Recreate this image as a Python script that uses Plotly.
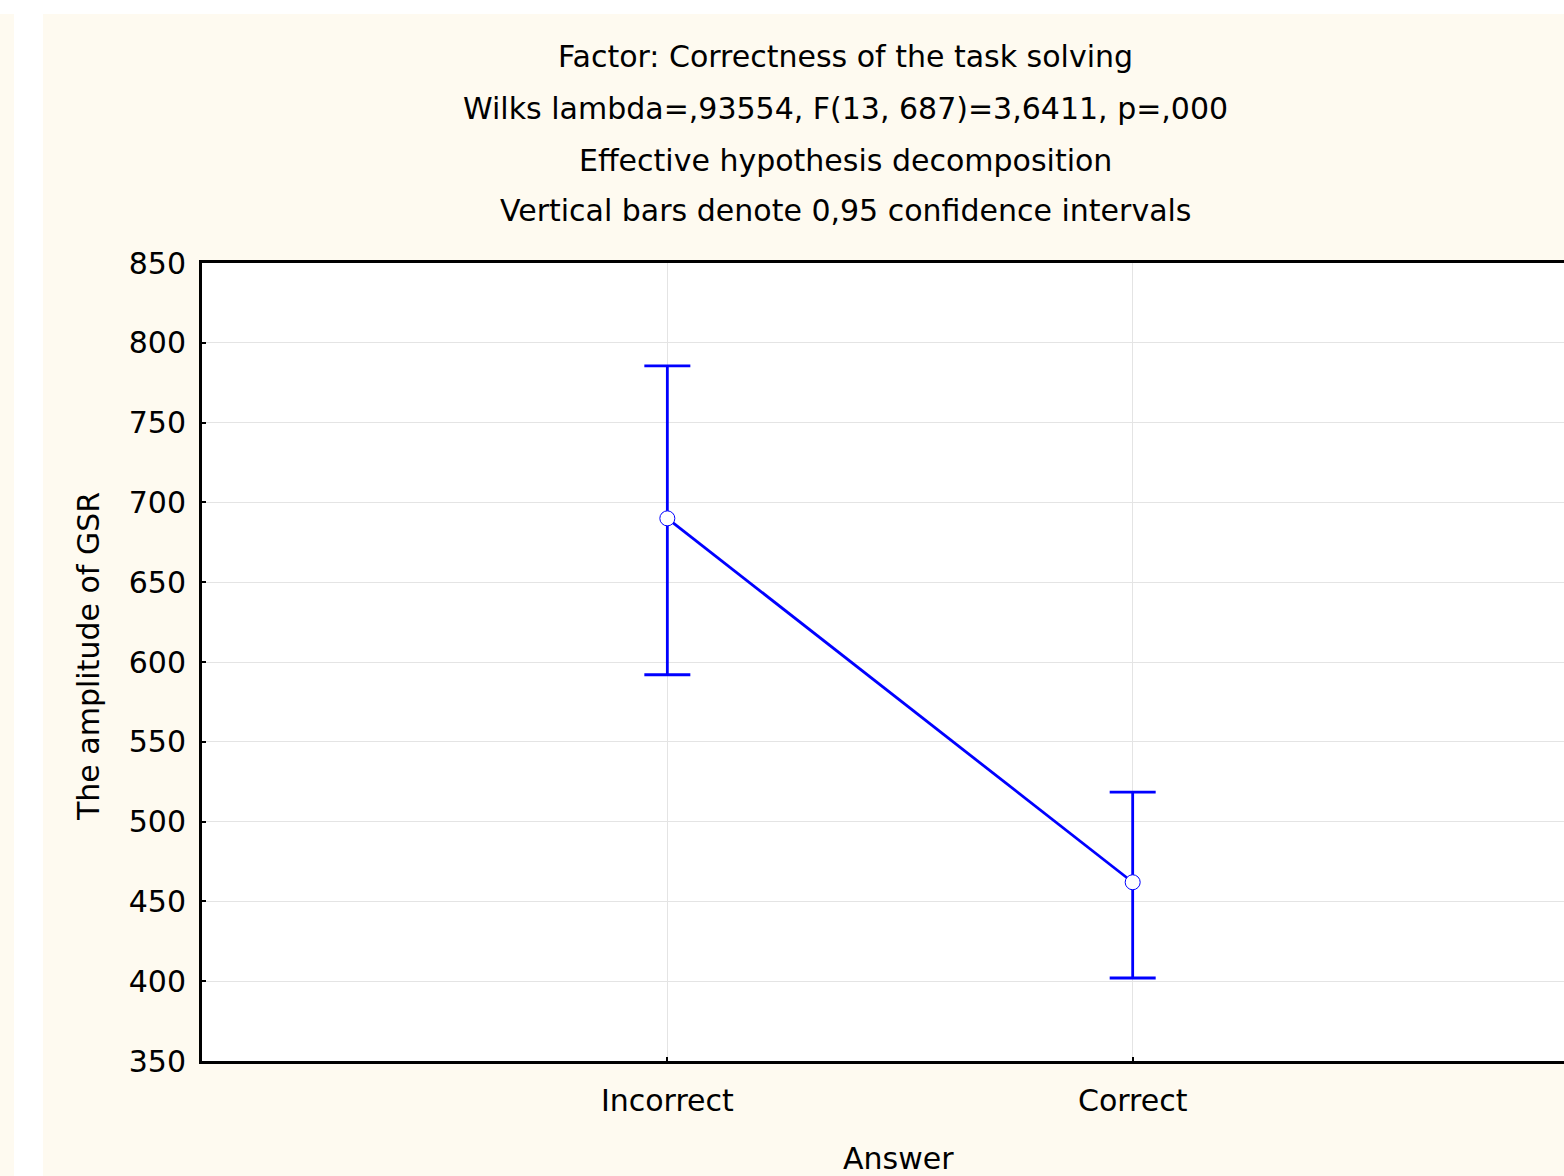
import plotly.graph_objects as go

# Data
categories = ["Incorrect", "Correct"]
means = [690, 462]
ci_upper = [785.5, 518.5]
ci_lower = [592, 402]
y_ticks = [350, 400, 450, 500, 550, 600, 650, 700, 750, 800, 850]

title_lines = [
    "Factor: Correctness of the task solving",
    "Wilks lambda=,93554, F(13, 687)=3,6411, p=,000",
    "Effective hypothesis decomposition",
    "Vertical bars denote 0,95 confidence intervals",
]

plus = [u - m for u, m in zip(ci_upper, means)]
minus = [m - l for l, m in zip(ci_lower, means)]

W, H = 1564, 1176
L, R, T, B = 202, 0, 263, 115
PW, PH = W - L - R, H - T - B


def px(x):
    return (x - L) / PW


def py(y):
    return (H - B - y) / PH


FONT = "DejaVu Sans, Liberation Sans, Arial, sans-serif"
FS = 30
BLUE = "#0000FF"
CREAM = "#FEFAF0"

fig = go.Figure()
fig.add_trace(go.Scatter(
    x=categories, y=means, mode="lines+markers",
    line=dict(color=BLUE, width=2.8),
    marker=dict(size=15, color="white", line=dict(color=BLUE, width=1)),
    error_y=dict(type="data", symmetric=False, array=plus, arrayminus=minus,
                 color=BLUE, thickness=2.8, width=23),
    showlegend=False, cliponaxis=False,
))

shapes = [
    dict(type="rect", xref="paper", yref="paper", x0=px(0), x1=px(14), y0=py(1176), y1=py(14),
         fillcolor=CREAM, line=dict(width=0), layer="below"),
    dict(type="rect", xref="paper", yref="paper", x0=px(43), x1=px(1564), y0=py(1176), y1=py(14),
         fillcolor=CREAM, line=dict(width=0), layer="below"),
    dict(type="rect", xref="paper", yref="paper", x0=0, x1=1, y0=0, y1=1,
         fillcolor="white", line=dict(width=0), layer="below"),
]

annotations = []
title_y = [57, 108, 160, 211]
for t, yy in zip(title_lines, title_y):
    annotations.append(dict(text=t, xref="paper", yref="paper", x=px(845), y=py(yy),
                            xanchor="center", yanchor="middle", showarrow=False,
                            font=dict(family=FONT, size=FS, color="black")))
annotations.append(dict(text="Answer", xref="paper", yref="paper", x=px(898), y=py(1158),
                        xanchor="center", yanchor="middle", showarrow=False,
                        font=dict(family=FONT, size=FS, color="black")))
annotations.append(dict(text="The amplitude of GSR", xref="paper", yref="paper", x=px(88), y=py(657),
                        xanchor="center", yanchor="middle", showarrow=False, textangle=-90,
                        font=dict(family=FONT, size=FS, color="black")))

fig.update_layout(
    width=W, height=H, autosize=False,
    margin=dict(l=L, r=R, t=T, b=B, pad=0),
    paper_bgcolor="white", plot_bgcolor="white",
    shapes=shapes, annotations=annotations,
    font=dict(family=FONT, size=FS, color="black"),
)
fig.update_xaxes(
    type="category", range=[-1, 1 + (1564 - 1133) / 465],
    showline=True, linecolor="black", linewidth=3, mirror=True,
    showgrid=True, gridcolor="#E4E4E4", gridwidth=1,
    ticks="inside", ticklen=4, tickwidth=2, tickcolor="black",
    ticklabelstandoff=11, tickfont=dict(family=FONT, size=FS, color="black"),
    zeroline=False,
)
fig.update_yaxes(
    range=[350, 850], tickvals=y_ticks,
    showline=True, linecolor="black", linewidth=3, mirror=False,
    showgrid=True, gridcolor="#E4E4E4", gridwidth=1,
    ticks="inside", ticklen=4, tickwidth=2, tickcolor="black",
    ticklabelstandoff=7, tickfont=dict(family=FONT, size=FS, color="black"),
    zeroline=False,
)

fig.write_html("out.html")
